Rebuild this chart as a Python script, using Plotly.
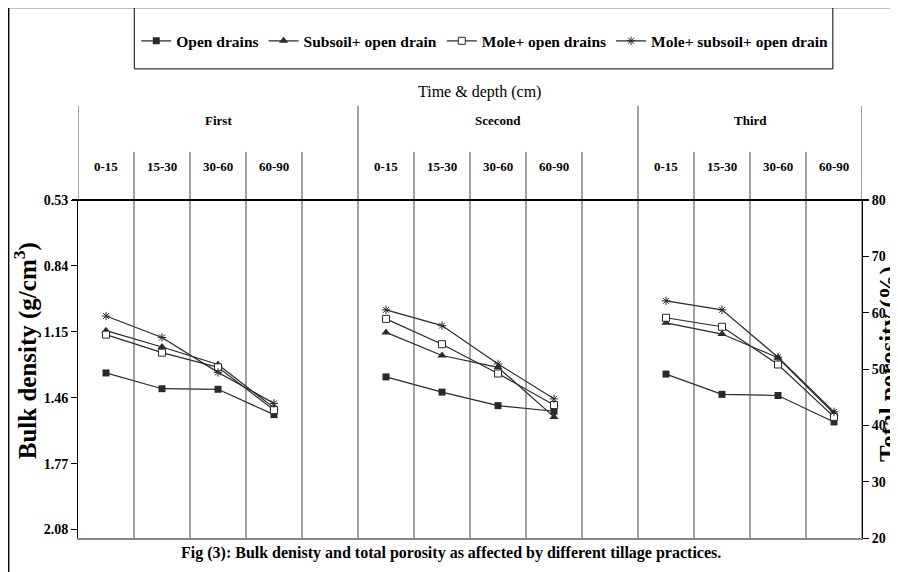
import plotly.graph_objects as go

# ---- data ----
categories = ["0-15", "15-30", "30-60", "60-90", "",
              "0-15", "15-30", "30-60", "60-90", "",
              "0-15", "15-30", "30-60", "60-90"]
groups = ["First", "Scecond", "Third"]
group_centers = [2, 7, 11.5]
series_names = ["Open drains", "Subsoil+ open drain", "Mole+ open drains", "Mole+ subsoil+ open drain"]
open_drains = [49.3, 46.5, 46.4, 41.9, None, 48.6, 45.9, 43.5, 42.5, None, 49.1, 45.5, 45.3, 40.6]
subsoil_open = [56.8, 53.9, 50.8, 43.1, None, 56.5, 52.4, 50.3, 41.5, None, 58.2, 56.2, 52.0, 42.1]
mole_open = [56.1, 52.9, 50.3, 42.7, None, 58.9, 54.4, 49.2, 43.6, None, 59.1, 57.5, 50.8, 41.5]
mole_subsoil_open = [59.4, 55.6, 49.4, 43.9, None, 60.5, 57.7, 50.9, 44.7, None, 62.1, 60.5, 52.1, 42.4]
bd_ticks = [0.53, 0.84, 1.15, 1.46, 1.77, 2.08]
porosity_ticks = [20, 30, 40, 50, 60, 70, 80]

FONT = "Liberation Serif"
INK = "#2a2a2a"
x_idx = list(range(len(categories)))

# plot area in screen pixels: x 78..858, y 200..530 (page has 8px body margin)
def px(sx):
    return (sx - 78) / 780

def py(sy):
    return (530 - sy) / 330

fig = go.Figure()
styles = [
    dict(symbol="square", size=7, color=INK, line=dict(width=0)),
    dict(symbol="triangle-up", size=8, color=INK, line=dict(width=0)),
    dict(symbol="square", size=7, color="white", line=dict(width=1, color=INK)),
    dict(symbol="asterisk-open", size=7, color=INK, line=dict(width=1, color=INK)),
]
for name, vals, mk in zip(series_names, [open_drains, subsoil_open, mole_open, mole_subsoil_open], styles):
    fig.add_trace(go.Scatter(x=x_idx, y=vals, name=name, mode="lines+markers", yaxis="y2",
                             line=dict(color=INK, width=1.2), marker=mk, connectgaps=False))

# invisible trace to activate left axis
fig.add_trace(go.Scatter(x=[0], y=[1.0], yaxis="y", showlegend=False, hoverinfo="skip",
                         mode="markers", marker=dict(opacity=0)))

shapes = []
n = len(categories)
for b in range(n + 1):
    xb = b - 0.5
    tall = b in (0, 5, 10, n)
    y0 = 1 if b == 0 else 0
    y1 = py(108) if tall else py(153)
    shapes.append(dict(type="line", xref="x", yref="paper", x0=xb, x1=xb, y0=y0, y1=y1,
                       line=dict(color="#444444", width=1)))
# top thick line
shapes.append(dict(type="line", xref="paper", yref="paper", x0=px(72), x1=px(865), y0=1, y1=1,
                   line=dict(color="black", width=2)))
# legend box
shapes.append(dict(type="rect", xref="paper", yref="paper",
                   x0=px(134), x1=px(829), y0=py(72), y1=py(12),
                   line=dict(color="black", width=1)))
# outer frame (left and top)
shapes.append(dict(type="line", xref="paper", yref="paper", x0=px(9), x1=px(9),
                   y0=py(12), y1=py(580), line=dict(color="black", width=1.5)))
shapes.append(dict(type="line", xref="paper", yref="paper", x0=px(9), x1=px(905),
                   y0=py(12), y1=py(12), line=dict(color="black", width=1.5)))

ann = []
for i, c in enumerate(categories):
    if c:
        ann.append(dict(x=i, y=py(167), xref="x", yref="paper", text=c, showarrow=False,
                        xanchor="center", yanchor="middle",
                        font=dict(family=FONT, size=13, color="black", weight="bold")))
for g, gc in zip(groups, group_centers):
    ann.append(dict(x=gc, y=py(122), xref="x", yref="paper", text=g, showarrow=False,
                    xanchor="center", yanchor="middle",
                    font=dict(family=FONT, size=13, color="black", weight="bold")))
ann.append(dict(x=px(477), y=py(95), xref="paper", yref="paper", xanchor="center", yanchor="middle",
                text="Time & depth (cm)", showarrow=False, font=dict(family=FONT, size=16, color="black")))
ann.append(dict(x=px(26), y=py(347), xref="paper", yref="paper", textangle=-90,
                xanchor="center", yanchor="middle",
                text="Bulk density (g/cm<sup>3</sup>)", showarrow=False,
                font=dict(family=FONT, size=25, color="black", weight="bold")))
ann.append(dict(x=px(885), y=py(360), xref="paper", yref="paper", textangle=-90,
                xanchor="center", yanchor="middle",
                text="Total porosity (%)", showarrow=False,
                font=dict(family=FONT, size=25, color="black", weight="bold")))
ann.append(dict(x=px(449), y=py(545), xref="paper", yref="paper", xanchor="center", yanchor="middle",
                text="Fig (3): Bulk denisty and total porosity as affected by different tillage practices.",
                showarrow=False, font=dict(family=FONT, size=16, color="black", weight="bold")))

fig.update_layout(
    width=890, height=564,
    margin=dict(l=70, r=32, t=192, b=34),
    paper_bgcolor="white", plot_bgcolor="white",
    showlegend=True,
    legend=dict(orientation="h", x=px(136), y=py(45), xanchor="left", yanchor="middle",
                font=dict(family=FONT, size=15.5, color="black", weight="bold"),
                bgcolor="rgba(0,0,0,0)", borderwidth=0, itemclick=False),
    xaxis=dict(range=[-0.5, n - 0.5], showgrid=False, zeroline=False, showticklabels=False,
               ticks="", showline=True, linecolor="#888888", linewidth=1.5, mirror=False),
    yaxis=dict(range=[2.12, 0.53], tickvals=bd_ticks, ticktext=[f"{v:.2f}" for v in bd_ticks],
               showgrid=False, zeroline=False, showline=True, linecolor="black", linewidth=1,
               ticks="outside", ticklen=6, tickcolor="black",
               tickfont=dict(family=FONT, size=14, color="black", weight="bold")),
    yaxis2=dict(range=[20, 80], tickvals=porosity_ticks, overlaying="y", side="right",
                showgrid=False, zeroline=False, showline=True, linecolor="black", linewidth=1,
                ticks="outside", ticklen=6, tickcolor="black",
                tickfont=dict(family=FONT, size=14, color="black", weight="bold")),
    shapes=shapes, annotations=ann,
)
fig.write_html("out.html")
